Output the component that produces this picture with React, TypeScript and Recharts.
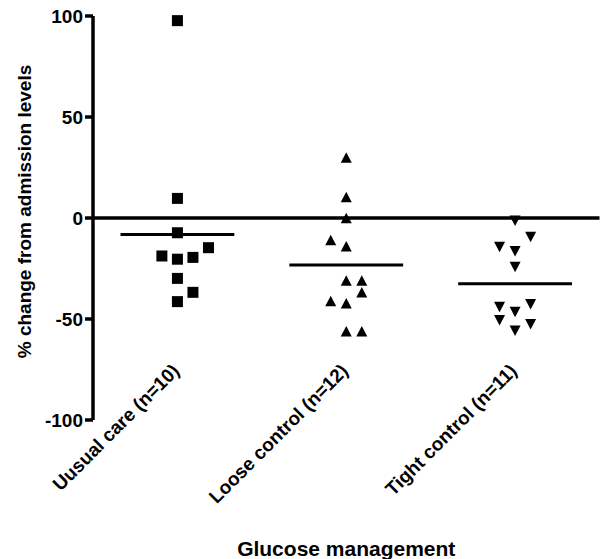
import React from 'react';
import {
  ScatterChart,
  Scatter,
  XAxis,
  YAxis,
  ReferenceLine,
  Label,
} from 'recharts';

// Category labels (x axis)
const categories = ['Uusual care (n=10)', 'Loose control (n=12)', 'Tight control (n=11)'];

// % change values per group
const usualValues = [97.7, 9.7, -7.3, -14.7, -18.8, -20.4, -19.5, -29.9, -36.8, -41.4];
const looseValues = [30, 10.4, 0, -10.9, -14, -30.9, -30.9, -36.8, -41.1, -42.2, -56.1, -56.1];
const tightValues = [-1.3, -9.4, -14.4, -16.5, -24.3, -42.7, -44.1, -46.5, -50.6, -52.6, -55.8];

// horizontal jitter slot of each point (as drawn in the reference)
const usualSlots = [0, 0, 0, 2, -1, 0, 1, 0, 1, 0];
const looseSlots = [0, 0, 0, -1, 0, 0, 1, 1, -1, 0, 0, 1];
const tightSlots = [0, 1, -1, 0, 0, 1, -1, 0, -1, 1, 0];

const yTicks = [-100, -50, 0, 50, 100];

const SLOT = 0.092; // category units per jitter slot
const MEAN_HALF = 0.337; // half-width of mean bar in category units

const FONT = '"Liberation Sans", Arial, Helvetica, sans-serif';

const mkPoints = (group: number, values: number[], slots: number[]) =>
  values.map((v, i) => ({ x: group + slots[i] * SLOT, y: v }));

const usualData = mkPoints(0, usualValues, usualSlots);
const looseData = mkPoints(1, looseValues, looseSlots);
const tightData = mkPoints(2, tightValues, tightSlots);

const mean = (a: number[]) => a.reduce((s, v) => s + v, 0) / a.length;
const means = [mean(usualValues), mean(looseValues), mean(tightValues)];

const SquareShape = (props: any) => {
  const { cx, cy } = props;
  const s = 11;
  return <rect x={cx - s / 2} y={cy - s / 2} width={s} height={s} fill="#000" />;
};

const TriUpShape = (props: any) => {
  const { cx, cy } = props;
  const w = 11;
  const h = 10.5;
  return (
    <polygon
      points={`${cx},${cy - h / 2} ${cx + w / 2},${cy + h / 2} ${cx - w / 2},${cy + h / 2}`}
      fill="#000"
    />
  );
};

const TriDownShape = (props: any) => {
  const { cx, cy } = props;
  const w = 11;
  const h = 10.5;
  return (
    <polygon
      points={`${cx - w / 2},${cy - h / 2} ${cx + w / 2},${cy - h / 2} ${cx},${cy + h / 2}`}
      fill="#000"
    />
  );
};

const CategoryTick = (props: any) => {
  const { x, y, payload } = props;
  const ax = x + 3;
  const ay = y - 48;
  return (
    <text
      x={ax}
      y={ay}
      transform={`rotate(-45, ${ax}, ${ay})`}
      textAnchor="end"
      fontFamily={FONT}
      fontWeight="bold"
      fontSize={19}
      fill="#000"
    >
      {categories[payload.value]}
    </text>
  );
};

const YTitle = () => (
  <text
    x={24}
    y={211.5}
    transform="rotate(-90, 24, 211.5)"
    textAnchor="middle"
    dominantBaseline="central"
    fontFamily={FONT}
    fontWeight="bold"
    fontSize={19}
    fill="#000"
  >
    % change from admission levels
  </text>
);

export default function App() {
  return (
    <div style={{ position: 'absolute', left: 0, top: 0, background: '#fff' }}>
      <ScatterChart
        width={601}
        height={559}
        margin={{ top: 16, right: 1.5, bottom: 0, left: 0 }}
      >
        <XAxis
          type="number"
          dataKey="x"
          domain={[-0.5, 2.5]}
          ticks={[0, 1, 2]}
          axisLine={false}
          tickLine={false}
          tickSize={0}
          tickMargin={0}
          height={139}
          tick={<CategoryTick />}
          interval={0}
        >
          <Label
            value="Glucose management"
            position="insideBottom"
            offset={3}
            style={{ fontFamily: FONT, fontWeight: 'bold', fontSize: 21, fill: '#000' }}
          />
        </XAxis>
        <YAxis
          type="number"
          dataKey="y"
          domain={[-100, 100]}
          ticks={yTicks}
          width={93}
          axisLine={{ stroke: '#000', strokeWidth: 3.5 }}
          tickLine={{ stroke: '#000', strokeWidth: 3.5 }}
          tickSize={8}
          tickMargin={2}
          tick={{ fill: '#000', fontFamily: FONT, fontWeight: 'bold', fontSize: 19 }}
          interval={0}
        >
          <Label content={<YTitle />} />
        </YAxis>
        <ReferenceLine y={0} stroke="#000" strokeWidth={3.5} ifOverflow="extendDomain" />
        {means.map((m, i) => (
          <ReferenceLine
            key={i}
            segment={[
              { x: i - MEAN_HALF, y: m },
              { x: i + MEAN_HALF, y: m },
            ]}
            stroke="#000"
            strokeWidth={3}
          />
        ))}
        <Scatter data={usualData} shape={<SquareShape />} isAnimationActive={false} />
        <Scatter data={looseData} shape={<TriUpShape />} isAnimationActive={false} />
        <Scatter data={tightData} shape={<TriDownShape />} isAnimationActive={false} />
      </ScatterChart>
    </div>
  );
}
